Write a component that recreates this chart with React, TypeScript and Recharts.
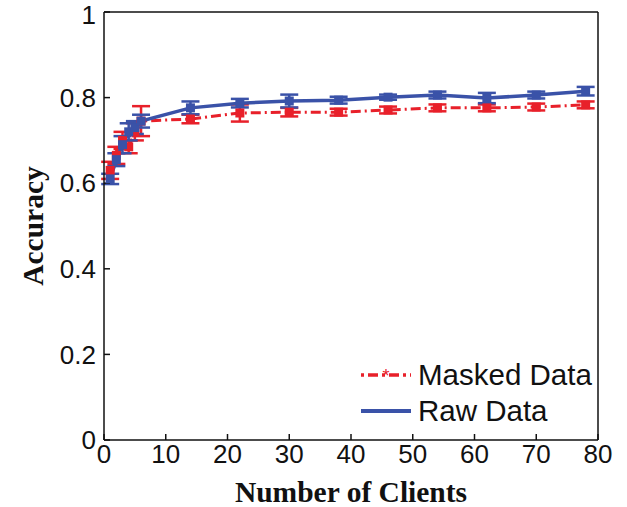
import { ComposedChart, Line, XAxis, YAxis, ErrorBar } from 'recharts';

const clients = [1, 2, 3, 4, 5, 6, 14, 22, 30, 38, 46, 54, 62, 70, 78];
const maskedAcc = [0.63, 0.665, 0.7, 0.685, 0.72, 0.745, 0.75, 0.764, 0.766, 0.766, 0.771, 0.776, 0.776, 0.778, 0.783];
const maskedErr = [0.02, 0.02, 0.02, 0.015, 0.02, 0.035, 0.01, 0.02, 0.01, 0.008, 0.008, 0.008, 0.008, 0.008, 0.008];
const rawAcc = [0.61, 0.655, 0.69, 0.72, 0.73, 0.745, 0.776, 0.787, 0.792, 0.794, 0.801, 0.806, 0.799, 0.806, 0.815];
const rawErr = [0.012, 0.015, 0.02, 0.02, 0.015, 0.015, 0.015, 0.01, 0.015, 0.008, 0.006, 0.008, 0.012, 0.008, 0.01];

const xTicks = [0, 10, 20, 30, 40, 50, 60, 70, 80];
const yTicks = [0, 0.2, 0.4, 0.6, 0.8, 1];

const RED = '#e8202a';
const BLUE = '#3a52a8';

const rows = clients.map((c, i) => ({
  clients: c,
  masked: maskedAcc[i],
  maskedErr: maskedErr[i],
  raw: rawAcc[i],
  rawErr: rawErr[i],
}));

const square = (color: string) => (props: any) => {
  const { cx, cy, index } = props;
  return <rect key={`sq-${index}`} x={cx - 4.5} y={cy - 4.5} width={9} height={9} fill={color} />;
};

const tickFont = { fontFamily: 'Liberation Sans, Arial, sans-serif', fontSize: 26, fill: '#111' };
const titleFont = { fontFamily: 'Liberation Serif, serif', fontWeight: 'bold', fontSize: 29.5, fill: '#111' };

// legend drawn as an overlay so it does not shrink the plot area
const LegendBox = () => (
  <div
    style={{
      position: 'absolute',
      left: 359,
      top: 357,
      fontFamily: 'Liberation Sans, Arial, sans-serif',
      fontSize: 29.5,
      color: '#111',
      lineHeight: '36px',
    }}
  >
    <div style={{ display: 'flex', alignItems: 'center' }}>
      <svg width={56} height={20}>
        <line x1={2} y1={10} x2={52} y2={10} stroke={RED} strokeWidth={3.5} strokeDasharray="3 4 10 4" />
        <text x={27} y={17} textAnchor="middle" fill={RED} fontSize={18}>*</text>
      </svg>
      <span style={{ marginLeft: 3 }}>Masked Data</span>
    </div>
    <div style={{ display: 'flex', alignItems: 'center' }}>
      <svg width={56} height={20}>
        <line x1={2} y1={10} x2={52} y2={10} stroke={BLUE} strokeWidth={4} />
      </svg>
      <span style={{ marginLeft: 3 }}>Raw Data</span>
    </div>
  </div>
);

export default function App() {
  return (
    <div style={{ position: 'absolute', left: 0, top: 0, width: 627, height: 507, background: '#fff' }}>
      <ComposedChart width={627} height={507} data={rows} margin={{ top: 11, right: 28, left: 0, bottom: 0 }}>
        <XAxis
          xAxisId="b"
          dataKey="clients"
          type="number"
          domain={[0, 80]}
          ticks={xTicks}
          height={67}
          stroke="#111"
          strokeWidth={1.5}
          tickSize={-6}
          tickMargin={11}
          tick={tickFont}
          label={{ value: 'Number of Clients', position: 'insideBottom', offset: 5, style: titleFont }}
        />
        <XAxis xAxisId="t" orientation="top" dataKey="clients" type="number" domain={[0, 80]} ticks={xTicks} height={1} stroke="#111" strokeWidth={1.5} tickSize={-6} tick={false} />
        <YAxis
          yAxisId="l"
          domain={[0, 1]}
          ticks={yTicks}
          width={104}
          stroke="#111"
          strokeWidth={1.5}
          tickSize={-6}
          tickMargin={14}
          tick={tickFont}
          tickFormatter={(v: number) => String(v)}
          label={{ value: 'Accuracy', angle: -90, position: 'insideLeft', offset: 33, style: { ...titleFont, textAnchor: 'middle' } }}
        />
        <YAxis yAxisId="r" orientation="right" domain={[0, 1]} ticks={yTicks} width={1} stroke="#111" strokeWidth={1.5} tickSize={-6} tick={false} />
        <Line
          xAxisId="b"
          yAxisId="l"
          dataKey="masked"
          stroke={RED}
          strokeWidth={3}
          strokeDasharray="10 4 2 4"
          dot={square(RED)}
          isAnimationActive={false}
        >
          <ErrorBar dataKey="maskedErr" width={9} stroke={RED} strokeWidth={2.5} direction="y" />
        </Line>
        <Line
          xAxisId="b"
          yAxisId="l"
          dataKey="raw"
          stroke={BLUE}
          strokeWidth={3.5}
          dot={square(BLUE)}
          isAnimationActive={false}
        >
          <ErrorBar dataKey="rawErr" width={9} stroke={BLUE} strokeWidth={2.5} direction="y" />
        </Line>
      </ComposedChart>
      <LegendBox />
    </div>
  );
}
